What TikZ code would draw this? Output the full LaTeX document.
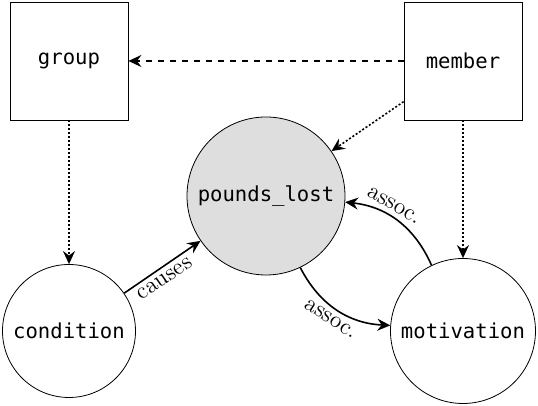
\documentclass[tikz,border=0pt]{standalone}
\usepackage{fontspec}
\newfontfamily\monofont{DejaVu Sans Mono}
\usetikzlibrary{positioning}
\usetikzlibrary{calc}
\usetikzlibrary{arrows.meta}

\begin{document}
\begin{tikzpicture}[
    x=0.5pt,y=-0.5pt,
    box/.style={rectangle, thin, draw=black, minimum size=59pt, inner sep=0pt, font=\monofont\fontsize{10.3}{12}\selectfont},
    var/.style={circle, thin, draw=black, inner sep=0pt, font=\monofont\fontsize{10.3}{12}\selectfont},
    lbl/.style={sloped, inner sep=2.5pt, font=\fontsize{11.7}{13}\selectfont},
    dots/.style={thick, dash pattern=on 1pt off 1pt},
    >={Stealth[length=6.5pt,width=6pt,inset=2.2pt]},
]
\useasboundingbox (0,0) rectangle (538,406);
\begin{scope}[node distance=197pt]
  \node[box]                         (group)  at (69,61)       {group};
  \node[box]                         (member) [right of=group] {member};
  \node[var, minimum size=66.5pt]    (cond)   [below of=group, node distance=135pt] {condition};
  \node[var, minimum size=72.5pt]    (motiv)  [below of=member, node distance=135pt] {motivation};
  \node[var, minimum size=79pt, fill=black!13] (pounds) at ($(group)!0.5!(motiv)$) {pounds\_lost};
\end{scope}
% links between the objects
\draw[->, thick, dashed] (member) -- (group);
\draw[->, dots] (member) -- (pounds);
\draw[->, dots] (group) -- (cond);
\draw[->, dots] (member) -- (motiv);
% relations
\draw[->, thick] (cond) -- node[lbl, below, pos=0.45] {causes} (pounds);
\draw[->, thick] (pounds) to[bend right=30] node[lbl, below] {assoc.} (motiv);
\draw[->, thick] (motiv) to[bend right=30] node[lbl, above, pos=0.6] {assoc.} (pounds);
\end{tikzpicture}
\end{document}
